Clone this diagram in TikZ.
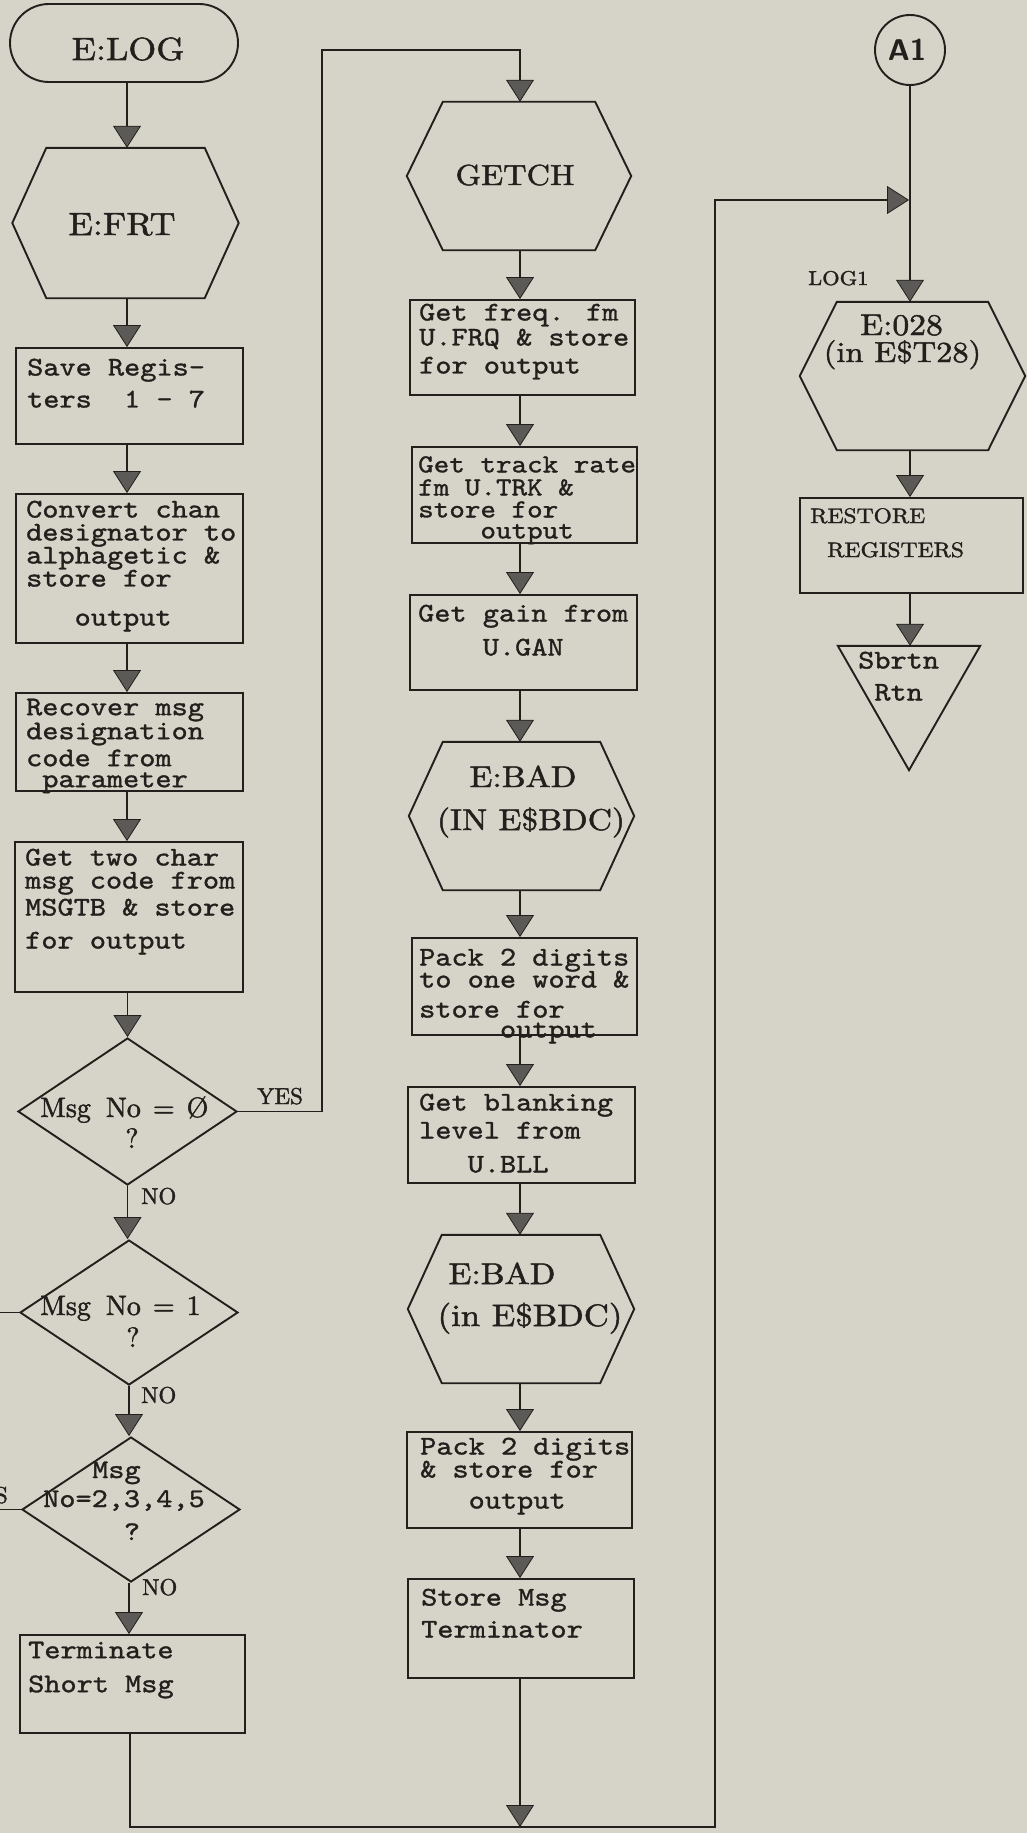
\documentclass[tikz,border=0pt]{standalone}
\usepackage{fontspec}
\usetikzlibrary{arrows.meta,shapes.geometric}
\newfontfamily\tw{lmmono10-regular.otf}[FakeStretch=1.14,FakeBold=1.2]
\newfontfamily\rw{lmroman10-regular.otf}[FakeStretch=1.12,FakeBold=1.6]
\newfontfamily\rn{lmroman10-regular.otf}[FakeBold=1.6]
\newfontfamily\sw{lmsans10-bold.otf}
\definecolor{paper}{RGB}{214,211,200}
\definecolor{ink}{RGB}{34,31,29}
\definecolor{tipgray}{RGB}{92,90,86}
\newcommand\hexa[2]{\draw[outline] (#1.north west) -- (#1.north east) -- ([xshift=#2]#1.east) -- (#1.south east) -- (#1.south west) -- ([xshift=-#2]#1.west) -- cycle;}
\tikzset{
  outline/.style={draw=ink, line width=1.9pt},
  procbox/.style={outline, rectangle, inner sep=0pt},
  hexn/.style={rectangle, inner sep=0pt, draw=none},
  decis/.style={outline, diamond, inner sep=0pt},
  flow/.style={draw=ink, line width=1.9pt, -{Triangle[width=28pt,length=22pt,fill=tipgray,line width=0.8pt]}},
  link/.style={draw=ink, line width=1.9pt},
  ttxt/.style={font={\tw\fontsize{27}{23}\selectfont\lineskiplimit=-30pt}, align=left, anchor=north west, inner sep=0pt, text=ink},
  tlab/.style={font={\tw\fontsize{27}{23}\selectfont}, anchor=base west, inner sep=0pt, text=ink},
  rtxt/.style={font={\rw\fontsize{#1}{#1}\selectfont}, anchor=base, inner sep=0pt, text=ink},
  ntxt/.style={font={\rn\fontsize{#1}{#1}\selectfont}, anchor=base west, inner sep=0pt, text=ink}
}
\begin{document}
\begin{tikzpicture}[x=1pt,y=-1pt]
\useasboundingbox (0,0) rectangle (1027,1833);
\fill[paper] (0,0) rectangle (1027,1833);
\coordinate (colL) at (127,0);
\coordinate (colM) at (520,0);
\coordinate (colR) at (910,0);

% ---------------- left column
\node[procbox, rounded corners=39pt, minimum width=228pt, minimum height=78pt] (log) at (124,43) {};
\node[rtxt=32] (logt) at (128,60) {E:LOG};

\node[hexn, minimum width=158pt, minimum height=150pt] (frt) at (125.5,223) {};
\hexa{frt}{34pt}
\node[rtxt=32] (frtt) at (122,235) {E:FRT};

\node[procbox, minimum width=227pt, minimum height=96pt] (sav) at (129.5,396) {};
\node[ttxt] (savt) at (27,358.5) {Save Regis-\\[9pt]ters~~1~-~7};

\node[procbox, minimum width=227pt, minimum height=149pt] (cnv) at (129.5,568.5) {};
\node[ttxt] (cnvt) at (26,500.5) {Convert chan\\designator to\\alphagetic \&\\store for\\[16pt]~~~output};

\node[procbox, minimum width=227pt, minimum height=98pt] (rec) at (129.5,742) {};
\node[ttxt] (rect) at (26,698.5) {Recover msg\\[1pt]designation\\[4pt]code from\\[-2pt]~parameter};

\node[procbox, minimum width=228pt, minimum height=150pt] (two) at (129,917) {};
\node[ttxt] (twot) at (25,848.5) {Get two char\\msg code from\\[4pt]MSGTB \& store\\[10pt]for output};

\node[decis, minimum width=219pt, minimum height=147pt] (d1) at (127.5,1111.5) {};
\node[ntxt=28] (d1a) at (40,1117) {Msg\hspace{15pt}No\hspace{12pt}=\hspace{12pt}Ø};
\node[ntxt=28, anchor=base] (d1b) at (132,1148) {?};

\node[decis, minimum width=218pt, minimum height=145pt] (d2) at (129,1312.5) {};
\node[ntxt=28] (d2a) at (40,1315) {Msg\hspace{15pt}No\hspace{12pt}=\hspace{12pt}1};
\node[ntxt=28, anchor=base] (d2b) at (133,1347) {?};

\node[decis, minimum width=218pt, minimum height=145pt] (d3) at (131,1509.5) {};
\node[tlab] (d3a) at (92,1478) {Msg};
\node[tlab] (d3b) at (43,1507) {No=2,3,4,5};
\node[tlab, anchor=base] (d3c) at (132,1540) {?};

\node[procbox, minimum width=225pt, minimum height=98pt] (trm) at (132.5,1684) {};
\node[ttxt] (trmt) at (28,1641.5) {Terminate\\[11pt]Short Msg};

% ---------------- middle column
\node[hexn, minimum width=152pt, minimum height=148pt] (getch) at (519,176) {};
\hexa{getch}{36pt}
\node[rtxt=29] (getcht) at (515,185) {GETCH};

\node[procbox, minimum width=225pt, minimum height=95pt] (frq) at (522.5,347.5) {};
\node[ttxt] (frqt) at (419,303.5) {Get freq. fm\\[2pt]U.FRQ \& store\\[5pt]for output};

\node[procbox, minimum width=225pt, minimum height=96pt] (trk) at (524.5,495) {};
\node[ttxt, font={\tw\fontsize{26}{23}\selectfont\lineskiplimit=-30pt}] (trkt) at (418,456) {Get track rate\\fm U.TRK \&\\[-1pt]store for\\[-2pt]~~~~output};

\node[procbox, minimum width=227pt, minimum height=95pt] (gan) at (523.5,642.5) {};
\node[ttxt] (gant) at (418,604.5) {Get gain from\\[11pt]~~~~U.GAN};

\node[hexn, minimum width=157pt, minimum height=148pt] (bad1) at (521.5,816) {};
\hexa{bad1}{34pt}
\node[rtxt=30] (bad1a) at (523,787) {E:BAD};
\node[rtxt=30] (bad1b) at (531,830) {(IN E\$BDC)};

\node[procbox, minimum width=225pt, minimum height=97pt] (pk1) at (524.5,986.5) {};
\node[ttxt] (pk1t) at (419,948.5) {Pack 2 digits\\[-1pt]to one word \&\\[7pt]store for\\[-3pt]~~~~~output};

\node[procbox, minimum width=227pt, minimum height=96pt] (bll) at (521.5,1135) {};
\node[ttxt] (bllt) at (419,1093.5) {Get blanking\\[5pt]level from\\[11pt]~~~U.BLL};

\node[hexn, minimum width=158pt, minimum height=148pt] (bad2) at (521,1309) {};
\hexa{bad2}{34pt}
\node[rtxt=30] (bad2a) at (502,1284) {E:BAD};
\node[rtxt=31] (bad2b) at (530,1326) {(in E\$BDC)};

\node[procbox, minimum width=225pt, minimum height=96pt] (pk2) at (519.5,1480) {};
\node[ttxt] (pk2t) at (420,1437.5) {Pack 2 digits\\\& store for\\[8pt]~~~output};

\node[procbox, minimum width=226pt, minimum height=99pt] (sto) at (521,1628.5) {};
\node[ttxt] (stot) at (421,1588.5) {Store Msg\\[9pt]Terminator};

% ---------------- right column
\node[outline, circle, minimum size=70pt, inner sep=0pt] (a1) at (910,50) {};
\node[font={\sw\fontsize{30}{30}\selectfont}, text=ink, inner sep=0pt] (a1t) at (907,50) {A1};

\node[rtxt=20, anchor=base west] (log1) at (808,285) {LOG1};

\node[hexn, minimum width=151pt, minimum height=148pt] (e028) at (912.5,376) {};
\hexa{e028}{37pt}
\node[rtxt=30] (e028a) at (901.5,335) {E:028};
\node[rtxt=29] (e028b) at (902.5,362) {(in E\$T28)};

\node[procbox, minimum width=223pt, minimum height=95pt] (rst) at (911.5,545.5) {};
\node[rtxt=21, anchor=base west] (rsta) at (810,523) {RESTORE};
\node[rtxt=21, anchor=base west] (rstb) at (827,557) {REGISTERS};

\node[hexn, minimum width=142pt, minimum height=124pt] (sbr) at (909,708) {};
\draw[outline] (sbr.north west) -- (sbr.north east) -- (sbr.south) -- cycle;
\node[ttxt] (sbrt) at (858,651.5) {Sbrtn\\[9pt]~Rtn};

% ---------------- connectors
\draw[flow] (log.south -| colL) -- (frt.north -| colL);
\draw[flow] (frt.south -| colL) -- (sav.north -| colL);
\draw[flow] (sav.south -| colL) -- (cnv.north -| colL);
\draw[flow] (cnv.south -| colL) -- (rec.north -| colL);
\draw[flow] (rec.south -| colL) -- (two.north -| colL);
\draw[flow] (two.south -| d1.north) -- (d1.north);
\draw[flow] (d1.south) -- (d2.north -| d1.south);
\node[ntxt=23] (no1) at (141,1204) {NO};
\draw[flow] (d2.south) -- (d3.north -| d2.south);
\node[ntxt=23] (no2) at (141,1403) {NO};
\draw[flow] (d3.south -| d2.south) -- (trm.north -| d2.south);
\node[ntxt=23] (no3) at (142,1595) {NO};

\coordinate (yesT) at (322,50);
\draw[flow] (d1.east) -| (yesT) -| (getch.north -| colM);
\node[ntxt=23] (yes1) at (257,1104) {YES};

\coordinate (offA) at (-10,1312.5);
\coordinate (offB) at (-10,1509.5);
\draw[link] (d2.west) -- (offA);
\draw[link] (d3.west) -- (offB);
\node[ntxt=23, anchor=base east] (yes2) at (8,1503) {YES};

\draw[flow] (getch.south -| colM) -- (frq.north -| colM);
\draw[flow] (frq.south -| colM) -- (trk.north -| colM);
\draw[flow] (trk.south -| colM) -- (gan.north -| colM);
\draw[flow] (gan.south -| colM) -- (bad1.north -| colM);
\draw[flow] (bad1.south -| colM) -- (pk1.north -| colM);
\draw[flow] (pk1.south -| colM) -- (bll.north -| colM);
\draw[flow] (bll.south -| colM) -- (bad2.north -| colM);
\draw[flow] (bad2.south -| colM) -- (pk2.north -| colM);
\draw[flow] (pk2.south -| colM) -- (sto.north -| colM);

\coordinate (lpL) at (130,1827);
\coordinate (lpR) at (715,1827);
\coordinate (lpT) at (715,200);
\coordinate (jn) at (909,200);
\draw[flow] (trm.south -| lpL) -- (lpL) -- (lpR) -- (lpT) -- (jn);
\draw[flow] (sto.south -| colM) -- (lpL -| colM);

\draw[flow] (a1.south -| colR) -- (e028.north -| colR);
\draw[flow] (e028.south -| colR) -- (rst.north -| colR);
\draw[flow] (rst.south -| colR) -- (sbr.north -| colR);
\end{tikzpicture}
\end{document}
